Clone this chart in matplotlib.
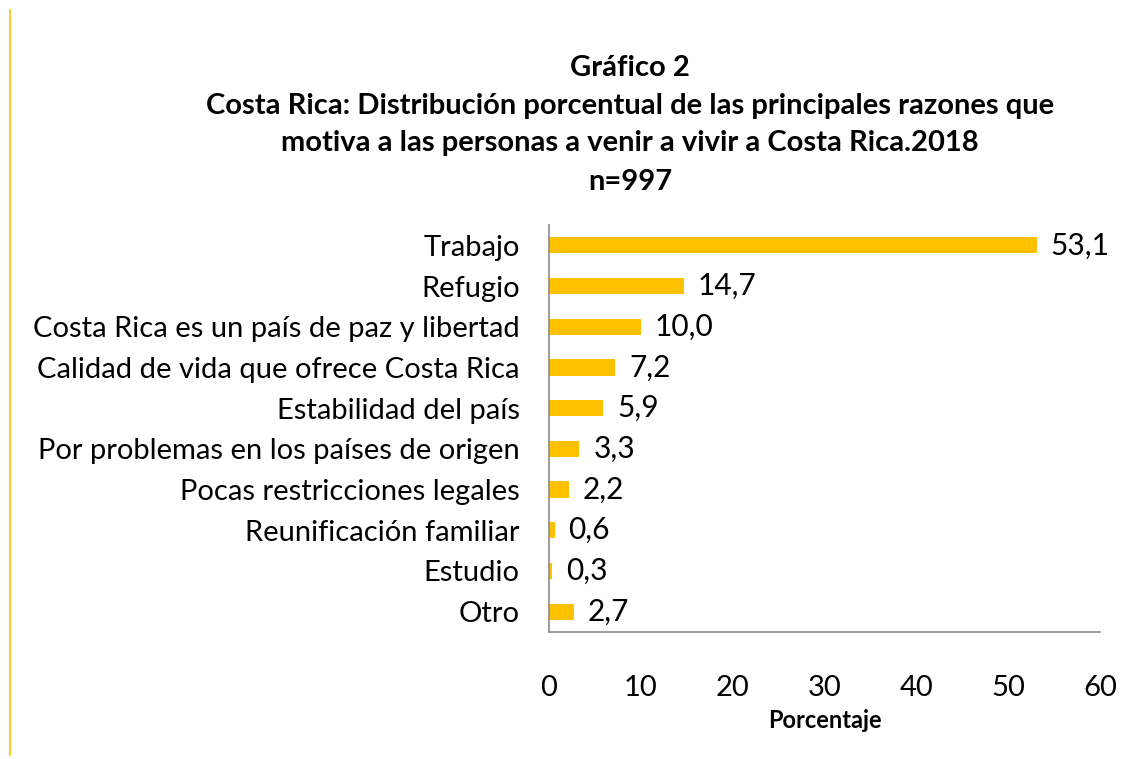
import matplotlib
matplotlib.use("Agg")
import matplotlib.pyplot as plt
from matplotlib.lines import Line2D
import numpy as np

plt.rcParams['font.family'] = ['Lato', 'DejaVu Sans']

categories = ['Trabajo', 'Refugio', 'Costa Rica es un país de paz y libertad',
              'Calidad de vida que ofrece Costa Rica', 'Estabilidad del país',
              'Por problemas en los países de origen', 'Pocas restricciones legales',
              'Reunificación familiar', 'Estudio', 'Otro']
values = [53.1, 14.7, 10.0, 7.2, 5.9, 3.3, 2.2, 0.6, 0.3, 2.7]
xticks = [0, 10, 20, 30, 40, 50, 60]

fig = plt.figure(figsize=(11.35, 7.59), dpi=100)
ax = fig.add_axes([0.4837, 0.1673, 0.4855, 0.5363])

y = np.arange(len(categories))
ax.barh(y, values, height=0.4, color='#FFC000')
ax.set_ylim(len(categories) - 0.5, -0.5)
ax.set_xlim(0, 60)
ax.set_yticks(y)
ax.set_yticklabels(categories, fontsize=21)
ax.set_xticks(xticks)
ax.set_xticklabels([str(t) for t in xticks], fontsize=21)
ax.tick_params(axis='y', length=0, pad=21)
ax.tick_params(axis='x', length=0, pad=31)

for s in ['top', 'right']:
    ax.spines[s].set_visible(False)
for s in ['left', 'bottom']:
    ax.spines[s].set_color('#8c8c8c')
    ax.spines[s].set_linewidth(1.2)

for yi, v in zip(y, values):
    ax.annotate(f'{v:.1f}'.replace('.', ','), xy=(v, yi), xytext=(10, 0),
                textcoords='offset points', va='center', ha='left', fontsize=21.5)

ax.set_xlabel('Porcentaje', fontsize=17, fontweight='bold', labelpad=6)

fig.text(0.555, 0.910, 'Gráfico 2', ha='center', va='center', fontsize=21, fontweight='bold')
fig.text(0.555, 0.860, 'Costa Rica: Distribución porcentual de las principales razones que',
         ha='center', va='center', fontsize=21, fontweight='bold')
fig.text(0.555, 0.811, 'motiva a las personas a venir a vivir a Costa Rica.2018',
         ha='center', va='center', fontsize=21, fontweight='bold')
fig.text(0.555, 0.760, 'n=997', ha='center', va='center', fontsize=21, fontweight='bold')

fig.add_artist(Line2D([0.0092, 0.0092], [0.005, 0.987], color='#FFC000', linewidth=1.2,
                      transform=fig.transFigure))

fig.savefig('out.png', dpi=100)
